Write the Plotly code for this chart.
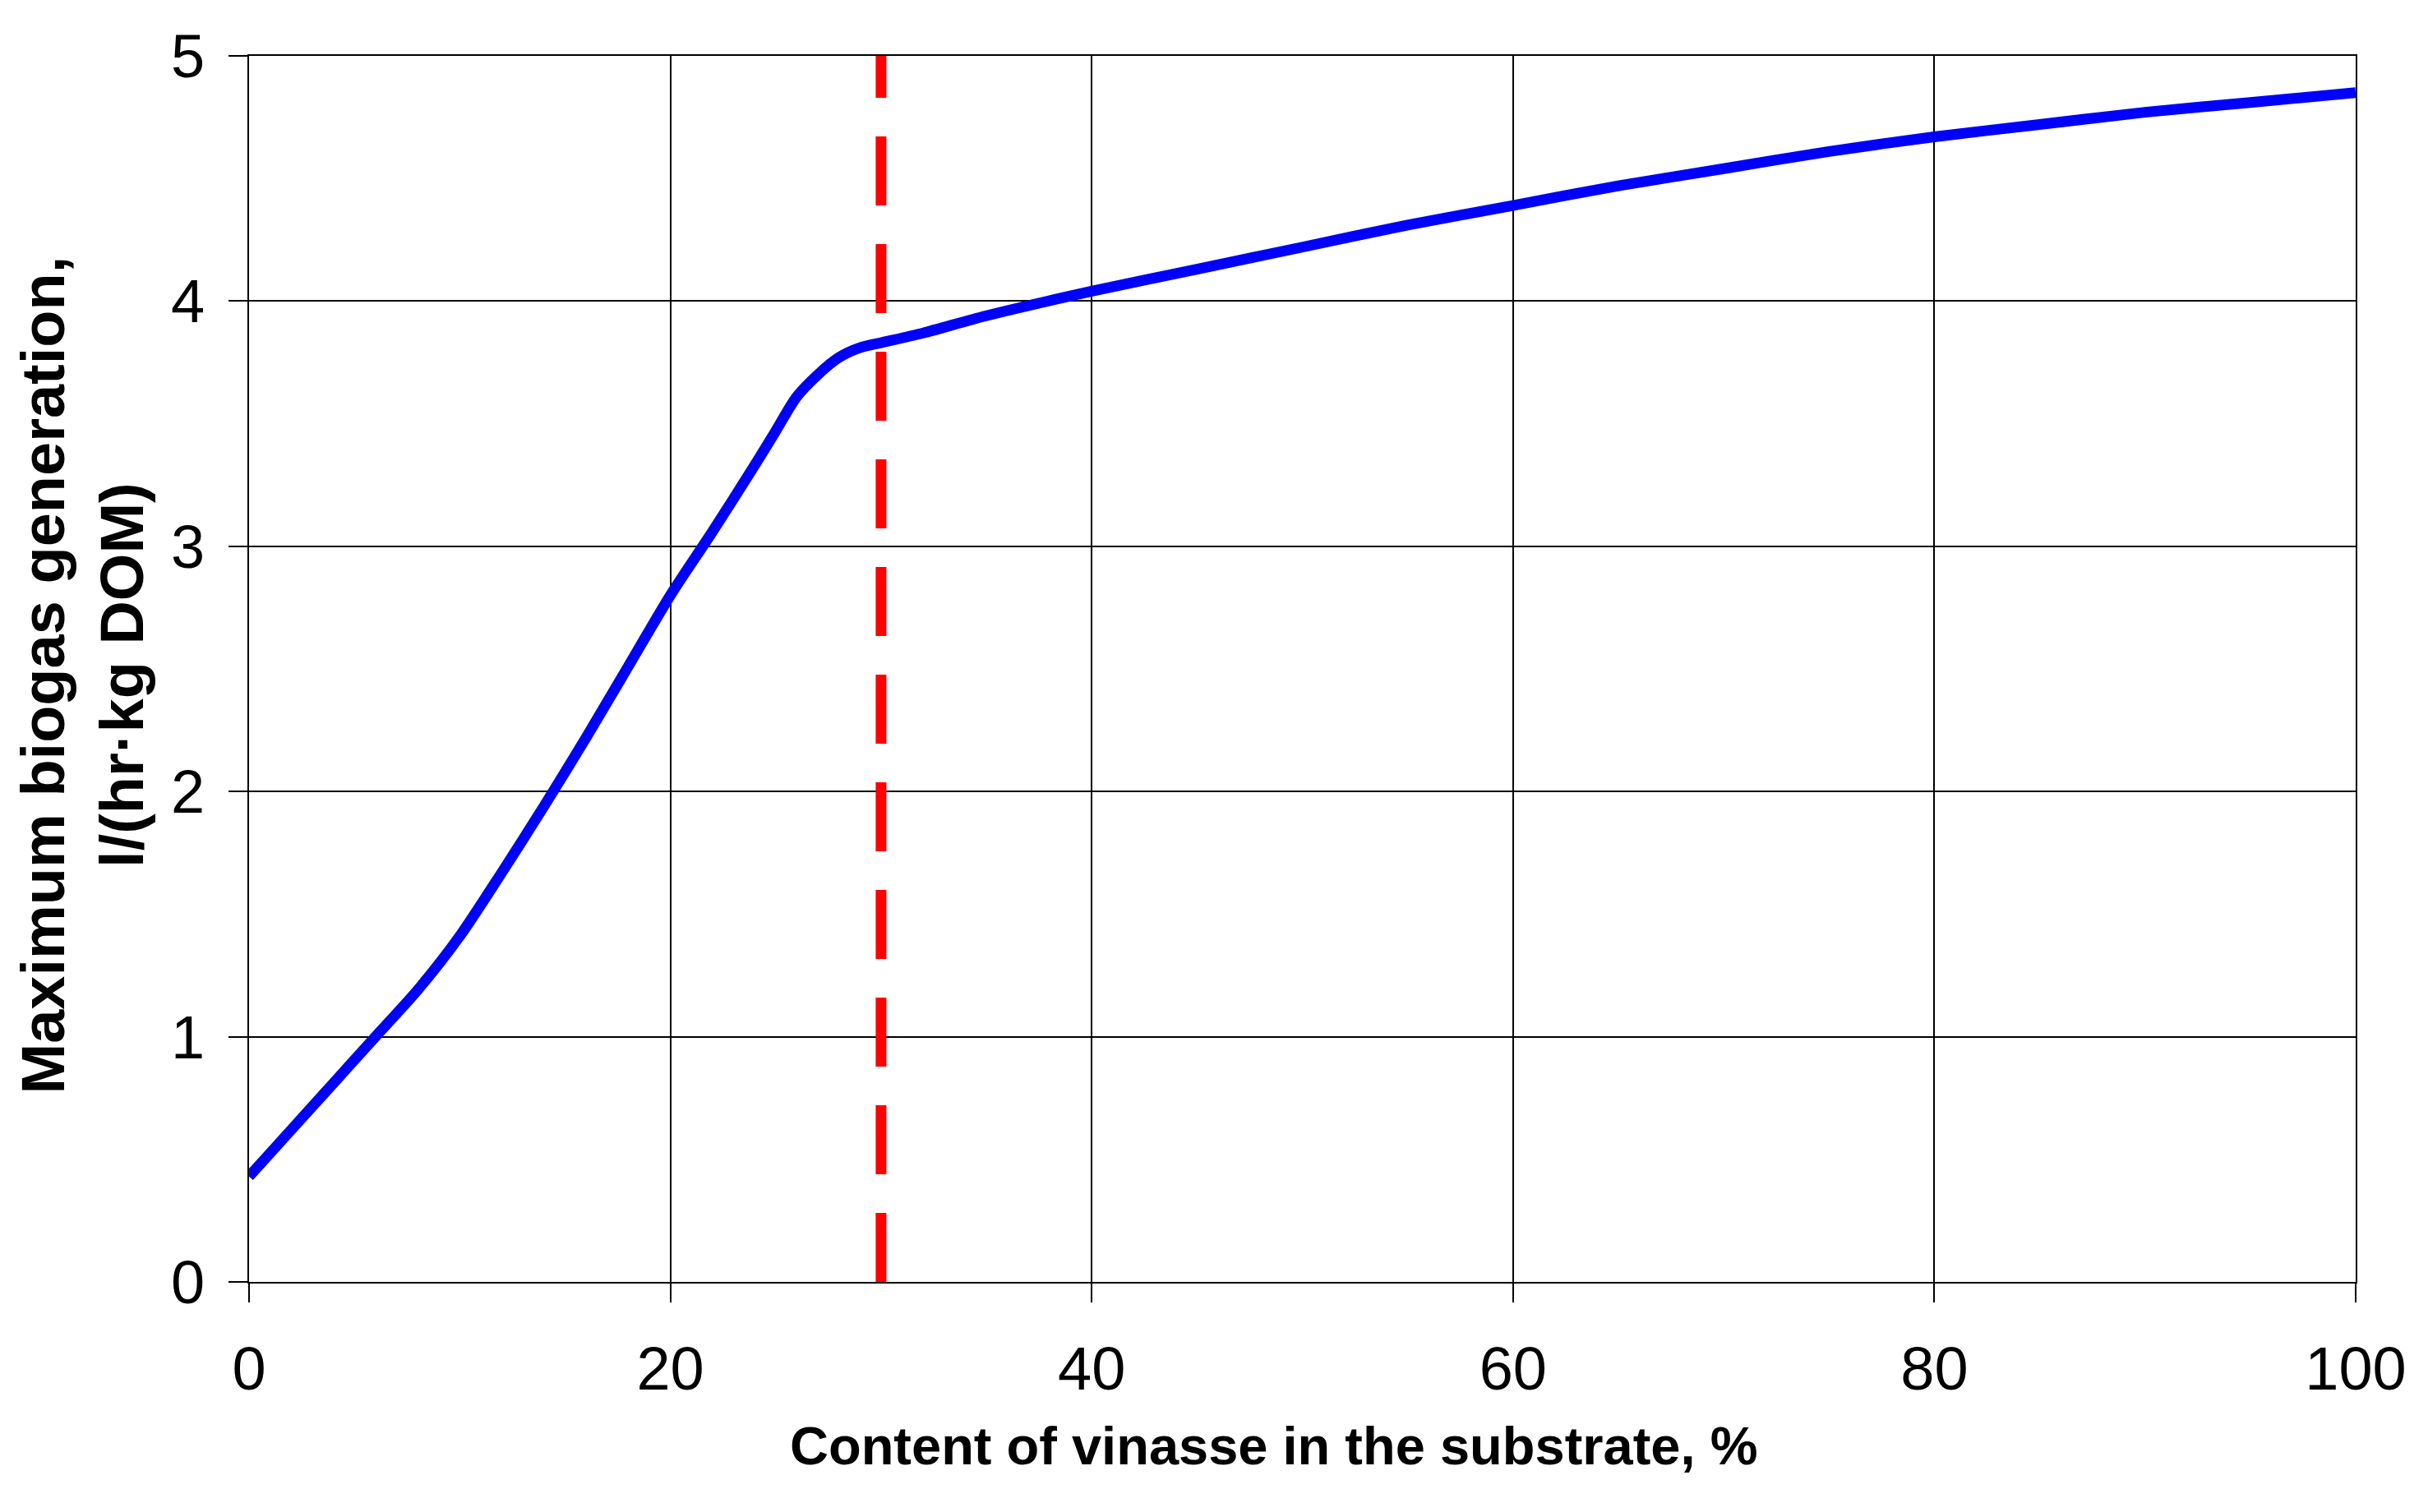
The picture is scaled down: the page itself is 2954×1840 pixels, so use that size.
"""Maximum biogas generation vs. vinasse content in the substrate."""

import plotly.graph_objects as go

# Vinasse content, %
vinasse_pct = [0, 2, 4, 6, 8, 10, 12, 14, 16, 18, 20, 22, 24, 25, 26, 27, 28, 29, 30,
               32, 35, 40, 45, 50, 55, 60, 65, 70, 75, 80, 85, 90, 95, 100]
# Maximum biogas generation, l/(hr·kg DOM)
biogas_max = [0.43, 0.62, 0.81, 1.00, 1.19, 1.41, 1.67, 1.94, 2.22, 2.51, 2.80, 3.06, 3.33,
              3.47, 3.61, 3.70, 3.77, 3.81, 3.83, 3.87, 3.94, 4.04, 4.13, 4.22, 4.31, 4.39,
              4.47, 4.54, 4.61, 4.67, 4.72, 4.77, 4.81, 4.85]

# Optimum vinasse content marker
optimum_x = [30, 30]
optimum_y = [0, 5]

x_ticks = [0, 20, 40, 60, 80, 100]
y_ticks = [0, 1, 2, 3, 4, 5]

FONT = "Liberation Sans, Arial, sans-serif"

fig = go.Figure()

fig.add_trace(
    go.Scatter(
        x=optimum_x,
        y=optimum_y,
        mode="lines",
        line=dict(color="#FF0000", width=13, dash="84px,47px"),
        showlegend=False,
    )
)

fig.add_trace(
    go.Scatter(
        x=vinasse_pct,
        y=biogas_max,
        mode="lines",
        line=dict(color="#0000FF", width=13, shape="spline", smoothing=0.8),
        showlegend=False,
    )
)

axis_style = dict(
    showgrid=True,
    gridcolor="black",
    gridwidth=1.5,
    showline=True,
    linecolor="black",
    linewidth=2,
    mirror=True,
    ticks="outside",
    ticklen=23,
    tickwidth=1.5,
    tickcolor="black",
    tickfont=dict(family=FONT, size=74, color="black"),
    zeroline=False,
)

fig.update_xaxes(
    range=[0, 100],
    tickvals=x_ticks,
    ticklabelstandoff=17,
    **axis_style,
)
fig.update_yaxes(
    range=[0, 5],
    tickvals=y_ticks,
    ticklabelstandoff=14,
    **axis_style,
)

# margins offset by the page's 8px body margin
fig.update_layout(
    width=2954,
    height=1840,
    margin=dict(l=295, r=96, t=60, b=288),
    plot_bgcolor="white",
    paper_bgcolor="white",
    font=dict(family=FONT, color="black"),
    annotations=[
        dict(
            text="<b>Content of vinasse in the substrate, %</b>",
            xref="paper",
            yref="paper",
            x=0.4865,
            y=-0.1334,
            xanchor="center",
            yanchor="middle",
            showarrow=False,
            font=dict(family=FONT, size=65, color="black"),
        ),
        dict(
            text="<b>Maximum biogas generation,<br>l/(hr·kg DOM)</b>",
            xref="paper",
            yref="paper",
            x=-0.0792,
            y=0.495,
            xanchor="center",
            yanchor="middle",
            textangle=-90,
            showarrow=False,
            font=dict(family=FONT, size=74, color="black"),
        ),
    ],
)

fig.write_html("out.html")
